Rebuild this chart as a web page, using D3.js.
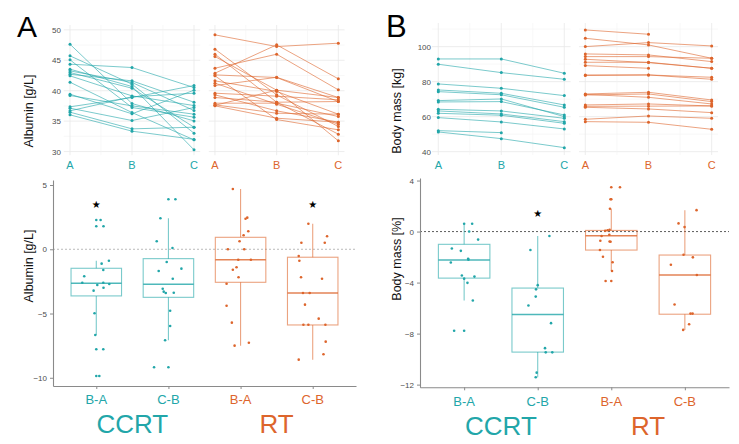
<!DOCTYPE html>
<html><head><meta charset="utf-8">
<script src="https://cdn.jsdelivr.net/npm/d3@7"></script>
<style>body{margin:0;background:#fff}svg{display:block;font-family:"Liberation Sans",Arial,sans-serif}</style>
</head><body><svg id="c" width="739" height="444"></svg>
<script>
// ---------- DATA ----------
const timepoints = ["A", "B", "C"];
const groups = ["CCRT", "RT"];
const diffCategories = ["B-A", "C-B", "B-A", "C-B"];
const diffGroupOf = ["CCRT", "CCRT", "RT", "RT"];

const albuminTicks = [30, 35, 40, 45, 50];
const albuminMinor = [32.5, 37.5, 42.5, 47.5];
const massTicks = [40, 60, 80, 100];
const massMinor = [50, 70, 90, 110];
const albuminDiffTicks = [5, 0, -5, -10];
const massDiffTicks = [4, 0, -4, -8, -12];

// Albumin [g/L] per patient at A, B, C
const albCCRT_A = [47.64, 45.73, 45.07, 44.36, 43.54, 43.26, 42.99, 42.71, 42.44, 41.40, 39.43, 39.21, 37.35, 37.13, 36.69, 36.47, 36.03];
const albCCRT_B = [37.89, 41.07, 37.24, 43.81, 40.69, 41.35, 40.41, 41.62, 39.15, 36.41, 36.20, 37.51, 38.88, 35.10, 39.00, 33.73, 33.35];
const albCCRT_C = [35.04, 33.02, 35.65, 40.52, 30.28, 36.74, 34.00, 38.11, 37.56, 31.92, 40.09, 36.14, 40.85, 37.24, 39.59, 34.00, 32.00];
const albRT_A = [49.18, 46.82, 46.00, 45.62, 43.70, 42.88, 42.60, 42.45, 41.62, 41.24, 40.85, 39.59, 39.32, 38.88, 37.95, 37.68, 37.51, 37.60];
const albRT_B = [47.26, 39.32, 38.11, 40.09, 46.00, 47.54, 42.17, 35.26, 39.87, 37.78, 42.20, 39.10, 36.69, 38.11, 37.95, 36.30, 35.48, 40.09];
const albRT_C = [47.81, 34.12, 32.85, 31.76, 40.14, 41.95, 38.22, 33.57, 36.14, 34.50, 38.88, 38.50, 34.83, 38.22, 35.76, 36.14, 34.83, 38.88];

// Body mass [kg] per patient at A, B, C
const massCCRT_A = [92.97, 89.93, 78.69, 75.26, 74.30, 69.16, 68.40, 64.21, 63.26, 61.93, 59.45, 52.02, 51.26];
const massCCRT_B = [92.97, 85.16, 76.21, 73.35, 72.50, 70.11, 68.59, 63.26, 61.54, 60.80, 56.97, 50.88, 47.45];
const massCCRT_C = [84.78, 81.35, 72.02, 66.69, 65.35, 60.02, 60.97, 59.07, 57.16, 56.21, 52.97, null, 42.30];
const massRT_A = [109.54, 104.78, 100.02, 95.83, 94.30, 92.78, 91.07, 89.16, 83.83, 83.50, 72.97, 72.40, 72.70, 66.69, 65.35, 65.90, 58.50, 57.16];
const massRT_B = [107.07, 100.97, 102.30, 95.26, 94.30, 90.88, 91.07, 87.64, 83.83, 83.83, 73.92, 72.97, 71.06, 67.26, 64.40, 66.00, 60.40, 56.78];
const massRT_C = [null, 93.35, 100.40, 91.45, 93.35, 87.64, 87.64, null, 81.35, 82.50, 69.54, 68.59, 67.26, 66.12, 62.30, 66.12, 59.07, 52.78];

// Albumin change [g/L] (B-A, C-B) with jitter (in category units)
const albDiffCCRT_BA = [2.28, 1.79, -0.89, -1.12, -1.61, -2.10, -2.60, -2.60, -2.70, -2.78, -2.99, -3.22, -4.98, -6.67, -7.78, -9.86];
const albJitCCRT_BA = [0.06, 0.10, 0.175, 0.074, 0.097, -0.167, -0.194, 0.097, 0.18, 0.014, 0.10, -0.037, -0.024, -0.014, 0.097, 0.042];
const albDiffCCRT_CB = [3.89, 2.41, 0.62, 0.10, -0.99, -1.51, -1.69, -2.29, -3.07, -3.30, -3.40, -3.38, -4.78, -5.97, -7.08, -9.18];
const albJitCCRT_CB = [0.097, -0.111, -0.162, 0.056, -0.024, 0.18, -0.135, 0.06, -0.079, -0.065, -0.037, 0.074, 0.024, 0.024, -0.046, -0.199];
const albDiffRT_BA = [4.69, 2.46, 2.38, 1.40, 1.09, 0.62, 0.00, 0.00, -0.81, -0.81, -1.40, -1.59, -2.18, -2.68, -4.39, -5.71, -7.27, -7.50];
const albJitRT_BA = [-0.107, 0.093, 0.069, 0.107, 0.042, -0.014, -0.176, 0.051, -0.032, 0.143, -0.056, -0.107, -0.028, -0.194, -0.194, -0.121, 0.115, -0.083];
const albDiffRT_CB = [1.99, 1.01, 0.51, 0.51, -0.52, -0.89, -2.18, -2.29, -3.40, -3.40, -4.31, -5.40, -5.87, -5.87, -5.87, -7.19, -8.17, -8.59];
const albJitRT_CB = [-0.06, 0.199, -0.157, 0.167, -0.194, -0.185, -0.162, 0.129, -0.135, -0.042, -0.107, 0.083, -0.129, -0.06, 0.176, 0.18, 0.149, -0.194];
// box stats per category
const albBoxLow = [-6.67, -7.08, -7.50, -8.59];
const albBoxQ1 = [-3.63, -3.74, -2.57, -5.89];
const albBoxMed = [-2.65, -2.72, -0.81, -3.40];
const albBoxQ3 = [-1.48, -0.73, 0.93, -0.62];
const albBoxHigh = [-0.89, 2.41, 4.69, 1.99];
const albStarCat = [1, 4];
const albStarVal = [3.5, 3.47];

// Body mass change [%]
const massDiffCCRT_BA = [0.61, 0.61, 0.00, -0.63, -1.33, -1.51, -2.13, -2.20, -2.43, -3.45, -3.53, -3.69, -4.02, -5.41, -7.78];
const massJitCCRT_BA = [0, 0.109, 0.068, 0.19, -0.167, -0.045, 0.054, 0.058, -0.181, -0.031, 0.14, 0, 0.045, 0.118, -0.136];
const massDiffCCRT_CB = [-0.35, -1.45, -4.20, -4.53, -5.10, -5.80, -7.18, -9.14, -9.47, -9.47, -11.06, -11.42];
const massJitCCRT_CB = [0.159, -0.099, 0, -0.023, -0.027, -0.126, 0.181, 0.099, 0.109, 0.198, -0.014, -0.027];
const massDiffRT_BA = [3.47, 2.53, 1.79, 0.14, 0.10, 0.07, -0.25, -0.35, -0.72, -0.78, -0.80, -1.45, -1.97, -2.41, -3.09, -3.87];
const massJitRT_BA = [0.118, -0.01, -0.018, -0.023, -0.05, -0.082, -0.027, -0.132, -0.149, -0.023, -0.01, -0.154, -0.113, 0.018, 0.01, -0.077];
const massDiffRT_CB = [1.68, 0.64, 0.35, -1.82, -2.02, -2.60, -3.41, -5.72, -6.43, -6.43, -7.27, -7.71];
const massJitRT_CB = [0.159, -0.086, -0.004, -0.018, 0.109, -0.19, 0.163, -0.14, 0.077, 0.105, 0.058, -0.023];
const massBoxLow = [-5.41, -11.42, -3.09, -7.71];
const massBoxQ1 = [-3.65, -9.45, -1.45, -6.48];
const massBoxMed = [-2.22, -6.50, -0.33, -3.40];
const massBoxQ3 = [-1.00, -4.43, 0.09, -1.84];
const massBoxHigh = [0.61, -0.35, 1.79, 1.68];
const massStarCat = [2];
const massStarVal = [1.4];

// ---------- STYLE ----------
const colors = {CCRT: "#22A6A9", RT: "#DD652C"};
const svg = d3.select("#c");

function topPanel(o) {
  const g = svg.append("g");
  const y = d3.scaleLinear().domain(o.yDomain).range(o.yRange);
  o.facets.forEach(f => {
    const x = d3.scaleLinear().domain([0.9, 3.1]).range(f.xRange);
    const [x0, x1] = f.xRange;
    g.selectAll(null).data(o.minor).join("line")
      .attr("x1", x0).attr("x2", x1).attr("y1", d => y(d)).attr("y2", d => y(d))
      .attr("stroke", "#f3f3f3").attr("stroke-width", 0.6);
    g.selectAll(null).data(o.ticks).join("line")
      .attr("x1", x0).attr("x2", x1).attr("y1", d => y(d)).attr("y2", d => y(d))
      .attr("stroke", "#e9e9e9").attr("stroke-width", 0.8);
    g.selectAll(null).data([1.5, 2.5]).join("line")
      .attr("x1", d => x(d)).attr("x2", d => x(d)).attr("y1", o.yRange[0]).attr("y2", o.yRange[1])
      .attr("stroke", "#f3f3f3").attr("stroke-width", 0.6);
    g.selectAll(null).data([1, 2, 3]).join("line")
      .attr("x1", d => x(d)).attr("x2", d => x(d)).attr("y1", o.yRange[0]).attr("y2", o.yRange[1])
      .attr("stroke", "#e9e9e9").attr("stroke-width", 0.8);
    const col = colors[f.group];
    const pts = f.A.map((a, i) => [[1, a], [2, f.B[i]], [3, f.C[i]]]);
    const line = d3.line().defined(d => d[1] != null).x(d => x(d[0])).y(d => y(d[1]));
    g.selectAll(null).data(pts).join("path")
      .attr("d", line).attr("fill", "none").attr("stroke", col)
      .attr("stroke-width", 0.8).attr("stroke-opacity", 0.75);
    g.selectAll(null).data(pts.flat().filter(d => d[1] != null)).join("circle")
      .attr("cx", d => x(d[0])).attr("cy", d => y(d[1])).attr("r", 1.5).attr("fill", col);
    g.selectAll(null).data(timepoints).join("text")
      .attr("x", (d, i) => x(i + 1)).attr("y", 169).attr("text-anchor", "middle")
      .attr("font-size", 11).attr("fill", col).text(d => d);
  });
  g.selectAll(null).data(o.ticks).join("text")
    .attr("x", o.labelX).attr("y", d => y(d) + 3).attr("text-anchor", "end")
    .attr("font-size", 8).attr("fill", "#4d4d4d").text(d => d);
  g.append("text").attr("transform", `translate(${o.titleX},${o.titleY}) rotate(-90)`)
    .attr("text-anchor", "middle").attr("font-size", 12.5).attr("fill", "#111").text(o.title);
}

function bottomPanel(o) {
  const g = svg.append("g");
  const x = d3.scaleLinear().domain([0.4, 4.6]).range(o.xRange);
  const y = d3.scaleLinear().domain(o.yDomain).range(o.yRange);
  // zero line
  g.append("line").attr("x1", o.xRange[0]).attr("x2", o.xRange[1]).attr("y1", y(0)).attr("y2", y(0))
    .attr("stroke", o.zeroColor).attr("stroke-width", 0.8).attr("stroke-dasharray", "2,2");
  // axes
  const ya = g.append("g").attr("transform", `translate(${o.xRange[0]},0)`)
    .call(d3.axisLeft(y).tickValues(o.ticks).tickSize(3).tickSizeOuter(0).tickFormat(d3.format("d")));
  const xa = g.append("g").attr("transform", `translate(0,${o.yRange[0]})`)
    .call(d3.axisBottom(x).tickValues([1, 2, 3, 4]).tickSize(3).tickSizeOuter(0).tickFormat(""));
  [ya, xa].forEach(a => {
    a.select(".domain").attr("stroke", "#8a8a8a").attr("stroke-width", 1.1);
    a.selectAll(".tick line").attr("stroke", "#8a8a8a");
    a.selectAll(".tick text").attr("font-size", 8).attr("fill", "#4d4d4d")
      .attr("font-family", "Liberation Sans, Arial, sans-serif");
  });
  // boxes
  const hw = 0.35;
  o.diffs.forEach((vals, i) => {
    const c = i + 1, col = colors[diffGroupOf[i]];
    const bg = g.append("g").attr("stroke", col).attr("fill", "none");
    bg.append("rect").attr("x", x(c - hw)).attr("width", x(c + hw) - x(c - hw))
      .attr("y", y(o.q3[i])).attr("height", y(o.q1[i]) - y(o.q3[i]))
      .attr("stroke-opacity", 0.6).attr("stroke-width", 1.1);
    bg.append("line").attr("x1", x(c - hw)).attr("x2", x(c + hw)).attr("y1", y(o.med[i])).attr("y2", y(o.med[i]))
      .attr("stroke-opacity", 0.8).attr("stroke-width", 1.5);
    bg.append("line").attr("x1", x(c)).attr("x2", x(c)).attr("y1", y(o.q3[i])).attr("y2", y(o.hi[i]))
      .attr("stroke-opacity", 0.6).attr("stroke-width", 1.1);
    bg.append("line").attr("x1", x(c)).attr("x2", x(c)).attr("y1", y(o.q1[i])).attr("y2", y(o.lo[i]))
      .attr("stroke-opacity", 0.6).attr("stroke-width", 1.1);
    const outl = vals.filter(v => v > o.hi[i] + 0.01 || v < o.lo[i] - 0.01);
    g.selectAll(null).data(outl).join("circle")
      .attr("cx", x(c)).attr("cy", d => y(d)).attr("r", 1.3).attr("fill", col);
    g.selectAll(null).data(vals).join("circle")
      .attr("cx", (d, k) => x(c + o.jit[i][k])).attr("cy", d => y(d)).attr("r", 1.3).attr("fill", col);
    g.append("text").attr("x", x(c)).attr("y", o.catY).attr("text-anchor", "middle")
      .attr("font-size", 13).attr("fill", col).text(diffCategories[i]);
  });
  // stars
  g.selectAll(null).data(o.starCat).join("text")
    .attr("x", d => x(d)).attr("y", (d, k) => y(o.starVal[k]) + 3.5).attr("text-anchor", "middle")
    .attr("font-family", "DejaVu Sans").attr("font-size", 10).attr("fill", "#000").text("\u2605");
  // group labels
  groups.forEach((gr, k) => {
    g.append("text").attr("x", x(1.5 + 2 * k)).attr("y", o.groupY).attr("text-anchor", "middle")
      .attr("font-size", 26).attr("fill", colors[gr]).text(gr);
  });
  g.append("text").attr("transform", `translate(${o.titleX},${o.titleY}) rotate(-90)`)
    .attr("text-anchor", "middle").attr("font-size", 12.5).attr("fill", "#111").text(o.title);
}

topPanel({
  yDomain: [29.4, 50.8], yRange: [155.2, 25], ticks: albuminTicks, minor: albuminMinor,
  labelX: 61, title: "Albumin [g/L]", titleX: 33, titleY: 111,
  facets: [
    {group: "CCRT", xRange: [63.8, 200.2], A: albCCRT_A, B: albCCRT_B, C: albCCRT_C},
    {group: "RT", xRange: [208.8, 344.5], A: albRT_A, B: albRT_B, C: albRT_C}
  ]
});
topPanel({
  yDomain: [38.1, 113.5], yRange: [155, 23], ticks: massTicks, minor: massMinor,
  labelX: 431, title: "Body mass [kg]", titleX: 401, titleY: 111,
  facets: [
    {group: "CCRT", xRange: [432, 570.6], A: massCCRT_A, B: massCCRT_B, C: massCCRT_C},
    {group: "RT", xRange: [579, 718], A: massRT_A, B: massRT_B, C: massRT_C}
  ]
});
bottomPanel({
  xRange: [53, 356], yDomain: [-10.64, 5.39], yRange: [386, 180], ticks: albuminDiffTicks,
  zeroColor: "#aaaaaa",
  diffs: [albDiffCCRT_BA, albDiffCCRT_CB, albDiffRT_BA, albDiffRT_CB],
  jit: [albJitCCRT_BA, albJitCCRT_CB, albJitRT_BA, albJitRT_CB],
  lo: albBoxLow, q1: albBoxQ1, med: albBoxMed, q3: albBoxQ3, hi: albBoxHigh,
  starCat: albStarCat, starVal: albStarVal,
  catY: 404, groupY: 432.5, title: "Albumin [g/L]", titleX: 33, titleY: 266
});
bottomPanel({
  xRange: [420, 729], yDomain: [-12.21, 4.2], yRange: [387.3, 178], ticks: massDiffTicks,
  zeroColor: "#333333",
  diffs: [massDiffCCRT_BA, massDiffCCRT_CB, massDiffRT_BA, massDiffRT_CB],
  jit: [massJitCCRT_BA, massJitCCRT_CB, massJitRT_BA, massJitRT_CB],
  lo: massBoxLow, q1: massBoxQ1, med: massBoxMed, q3: massBoxQ3, hi: massBoxHigh,
  starCat: massStarCat, starVal: massStarVal,
  catY: 405.5, groupY: 434.5, title: "Body mass [%]", titleX: 401, titleY: 259
});
// panel letters
svg.append("text").attr("x", 17).attr("y", 37).attr("font-size", 30).attr("fill", "#000").text("A");
svg.append("text").attr("x", 386).attr("y", 37).attr("font-size", 31).attr("fill", "#000").text("B");
</script></body></html>
